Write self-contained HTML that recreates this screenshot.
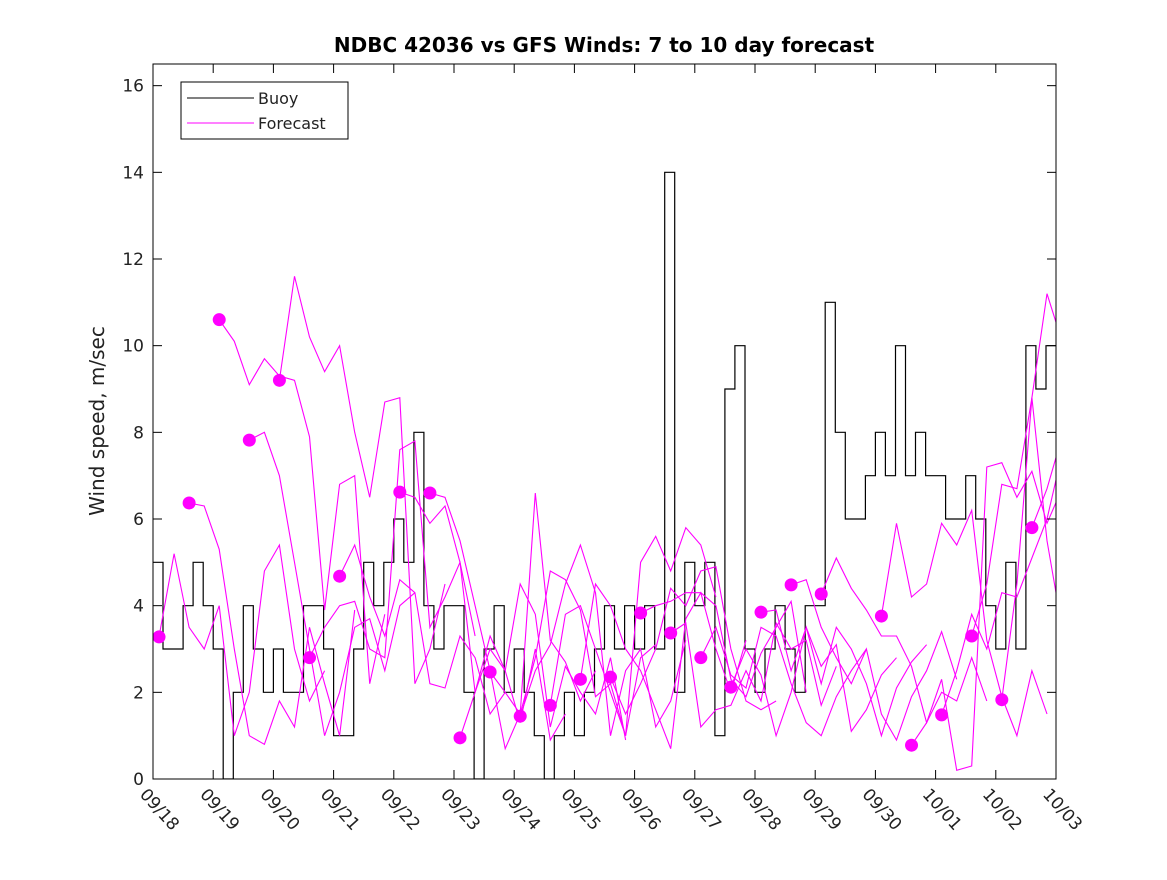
<!DOCTYPE html>
<html><head><meta charset="utf-8"><style>
body{margin:0;background:#fff;}
svg text{font-family:"DejaVu Sans","Liberation Sans",sans-serif;}
</style></head><body>
<svg id="chart" width="1167" height="875" xmlns="http://www.w3.org/2000/svg">
<rect width="1167" height="875" fill="#fff"/>
<text x="604" y="52" text-anchor="middle" font-size="20" font-weight="bold" fill="#000">NDBC 42036 vs GFS Winds: 7 to 10 day forecast</text>
<text transform="translate(104,421) rotate(-90)" text-anchor="middle" font-size="20" fill="#222">Wind speed, m/sec</text>
<g id="series"></g>
<g id="axes"></g>
<g>
<rect x="181" y="82" width="167" height="57" fill="#fff" stroke="#000" stroke-width="1"/>
<line x1="187" y1="98" x2="254" y2="98" stroke="#000"/>
<text x="258" y="104" font-size="16" fill="#222">Buoy</text>
<line x1="187" y1="123" x2="254" y2="123" stroke="#f0f"/>
<text x="258" y="129" font-size="16" fill="#222">Forecast</text>
</g>
</svg>
<script>
const xTickLabels=["09/18","09/19","09/20","09/21","09/22","09/23","09/24","09/25","09/26","09/27","09/28","09/29","09/30","10/01","10/02","10/03"];
const yTicks=[0,2,4,6,8,10,12,14,16];
// buoy: 6 values per day (4-hour steps) starting 09/18
const buoyValues=[5,3,3,4,5,4, 3,0,2,4,3,2, 3,2,2,4,4,3, 1,1,3,5,4,5, 6,5,8,4,3,4, 4,2,0,3,4,2, 3,2,1,0,1,2, 1,2,3,4,3,4, 3,4,3,14,2,5, 4,5,1,9,10,3, 2,3,4,3,2,4, 4,11,8,6,6,7, 8,7,10,7,8,7, 7,6,6,7,6,4, 3,5,3,10,9,10];
const forecastStart=[0.1,0.6,1.1,1.6,2.1,2.6,3.1,4.1,4.6,5.1,5.6,6.1,6.6,7.1,7.6,8.1,8.6,9.1,9.6,10.1,10.6,11.1,12.1,12.6,13.1,13.6,14.1,14.6];
const dotValues=[3.28,6.37,10.6,7.82,9.2,2.8,4.68,6.62,6.6,0.95,2.47,1.45,1.7,2.3,2.35,3.83,3.37,2.8,2.12,3.85,4.48,4.27,3.76,0.78,1.48,3.3,1.83,5.8];
const forecastTracks=[
[3.28,5.2,3.5,3.0,4.0,1.0,2.0,4.8,5.4,3.0,1.8,2.5],
[6.37,6.3,5.3,3.0,1.0,0.8,1.8,1.2,3.5,2.2,1.0,3.9],
[10.6,10.1,9.1,9.7,9.3,9.2,7.9,3.9,6.8,7.0,2.2,3.8],
[7.82,8.0,7.0,5.0,3.0,1.0,2.0,3.5,3.7,2.5,4.0,4.3],
[9.2,11.6,10.2,9.4,10.0,8.0,6.5,8.7,8.8,2.2,3.0,4.5],
[2.8,3.5,4.0,4.1,3.0,2.8,7.6,7.8,3.5,4.2,5.0,3.3],
[4.68,5.4,4.2,3.3,4.6,4.3,2.2,2.1,3.3,2.8,1.5,2.0],
[6.62,6.5,5.9,6.3,5.0,2.0,3.0,2.5,1.3,3.0,0.9,1.5],
[6.6,6.5,5.5,4.0,2.5,0.7,1.5,6.6,3.2,2.7,1.8,2.5],
[0.95,2.0,3.3,2.5,4.5,3.8,1.2,2.6,2.0,1.5,2.8,0.9],
[2.47,2.0,1.5,2.8,4.8,4.6,3.9,1.9,2.2,1.0,2.8,3.1],
[1.45,2.5,3.1,4.5,5.4,4.3,1.0,2.5,3.0,1.2,1.8,3.2],
[1.7,3.8,4.0,3.0,2.0,1.0,5.0,5.6,4.8,5.8,5.4,4.2],
[2.3,4.5,4.0,3.0,2.5,1.6,0.7,3.7,4.3,3.0,2.0,3.2],
[2.35,1.5,2.2,3.0,4.4,4.0,4.8,4.9,3.0,1.8,1.6,1.8],
[3.83,4.0,4.1,4.3,4.3,4.0,2.3,1.9,2.9,3.5,4.1,2.0],
[3.37,3.6,1.2,1.6,1.7,2.5,1.8,3.6,3.0,3.2,1.7,2.6],
[2.8,3.5,2.4,2.1,3.5,3.3,2.2,1.3,1.0,1.9,2.5,3.0],
[2.12,3.0,2.4,1.0,2.0,3.5,2.6,3.1,1.1,1.6,2.4,2.8],
[3.85,3.9,2.5,3.5,2.2,3.5,3.0,2.2,1.0,2.1,2.7,3.1],
[4.48,4.6,3.5,2.8,2.2,3.0,1.5,0.9,1.9,2.5,3.4,2.3],
[4.27,5.1,4.4,3.9,3.3,3.3,2.6,1.3,2.0,1.8,2.8,1.8],
[3.76,5.9,4.2,4.5,5.9,5.4,6.2,3.2,1.9,1.0,2.5,1.5],
[0.78,1.3,2.3,0.2,0.3,7.2,7.3,6.5,7.1,5.9,6.7,6.8],
[1.48,2.5,3.8,3.0,4.3,4.2,5.1,6.0,7.5,9.1,8.8,6.5],
[3.3,4.5,6.8,6.7,8.8,5.5,3.5,7.0,5.6,8.9,7.8,6.2],
[1.83,4.5,8.8,11.2,10.1,12.0,11.7,10.9,10.3,11.0,10.2,9.7],
[5.8,6.7,7.9,7.3,6.3,6.1,2.0,1.2,5.2,8.0,7.5,6.4]
];
const L=153,R=1056,T=64,B=779,DAYS=15,YMAX=16.5;
const sx=d=>L+(R-L)*d/DAYS, sy=v=>B-(B-T)*v/YMAX;
const NS="http://www.w3.org/2000/svg";
const S=document.getElementById('series'), A=document.getElementById('axes');
function mk(t,a,p){const e=document.createElementNS(NS,t);for(const k in a)e.setAttribute(k,a[k]);p.appendChild(e);return e;}
const clip=mk('clipPath',{id:'pc'},S);mk('rect',{x:L,y:T,width:R-L,height:B-T},clip);
const G=mk('g',{'clip-path':'url(#pc)'},S);
let d="";buoyValues.forEach((v,i)=>{const x0=sx(i/6),x1=sx((i+1)/6);d+=(i?"L":"M")+x0.toFixed(1)+","+sy(v).toFixed(1)+"L"+x1.toFixed(1)+","+sy(v).toFixed(1);});
const bl=mk('path',{d:d,fill:'none',stroke:'#000','stroke-width':1.2},G);


forecastTracks.forEach((tr,k)=>{
 const p=tr.map((v,i)=>sx(forecastStart[k]+i*0.25).toFixed(1)+","+sy(v).toFixed(1)).join(" ");
 const pl=mk('polyline',{points:p,fill:'none',stroke:'#f0f','stroke-width':1.1},G);
 
 
});
forecastStart.forEach((s,k)=>{
 const c=mk('circle',{cx:sx(s),cy:sy(dotValues[k]),r:6.5,fill:'#f0f'},S);
 
 
});
const fr=mk('rect',{x:L,y:T,width:R-L,height:B-T,fill:'none',stroke:'#000','stroke-width':1},A);


yTicks.forEach(v=>{
 mk('line',{x1:L,y1:sy(v),x2:L+9,y2:sy(v),stroke:'#000'},A);
 mk('line',{x1:R,y1:sy(v),x2:R-9,y2:sy(v),stroke:'#000'},A);
 const t=mk('text',{x:L-9,y:sy(v)+6,'text-anchor':'end','font-size':17,fill:'#222'},A);t.textContent=v;
 
 
});
xTickLabels.forEach((lab,i)=>{
 const x=sx(i);
 mk('line',{x1:x,y1:B,x2:x,y2:B-9,stroke:'#000'},A);
 mk('line',{x1:x,y1:T,x2:x,y2:T+9,stroke:'#000'},A);
 const t=mk('text',{transform:`translate(${x-14},${B+16}) rotate(48)`,'font-size':17,fill:'#222'},A);t.textContent=lab;
 
 
});
</script>
</body></html>
